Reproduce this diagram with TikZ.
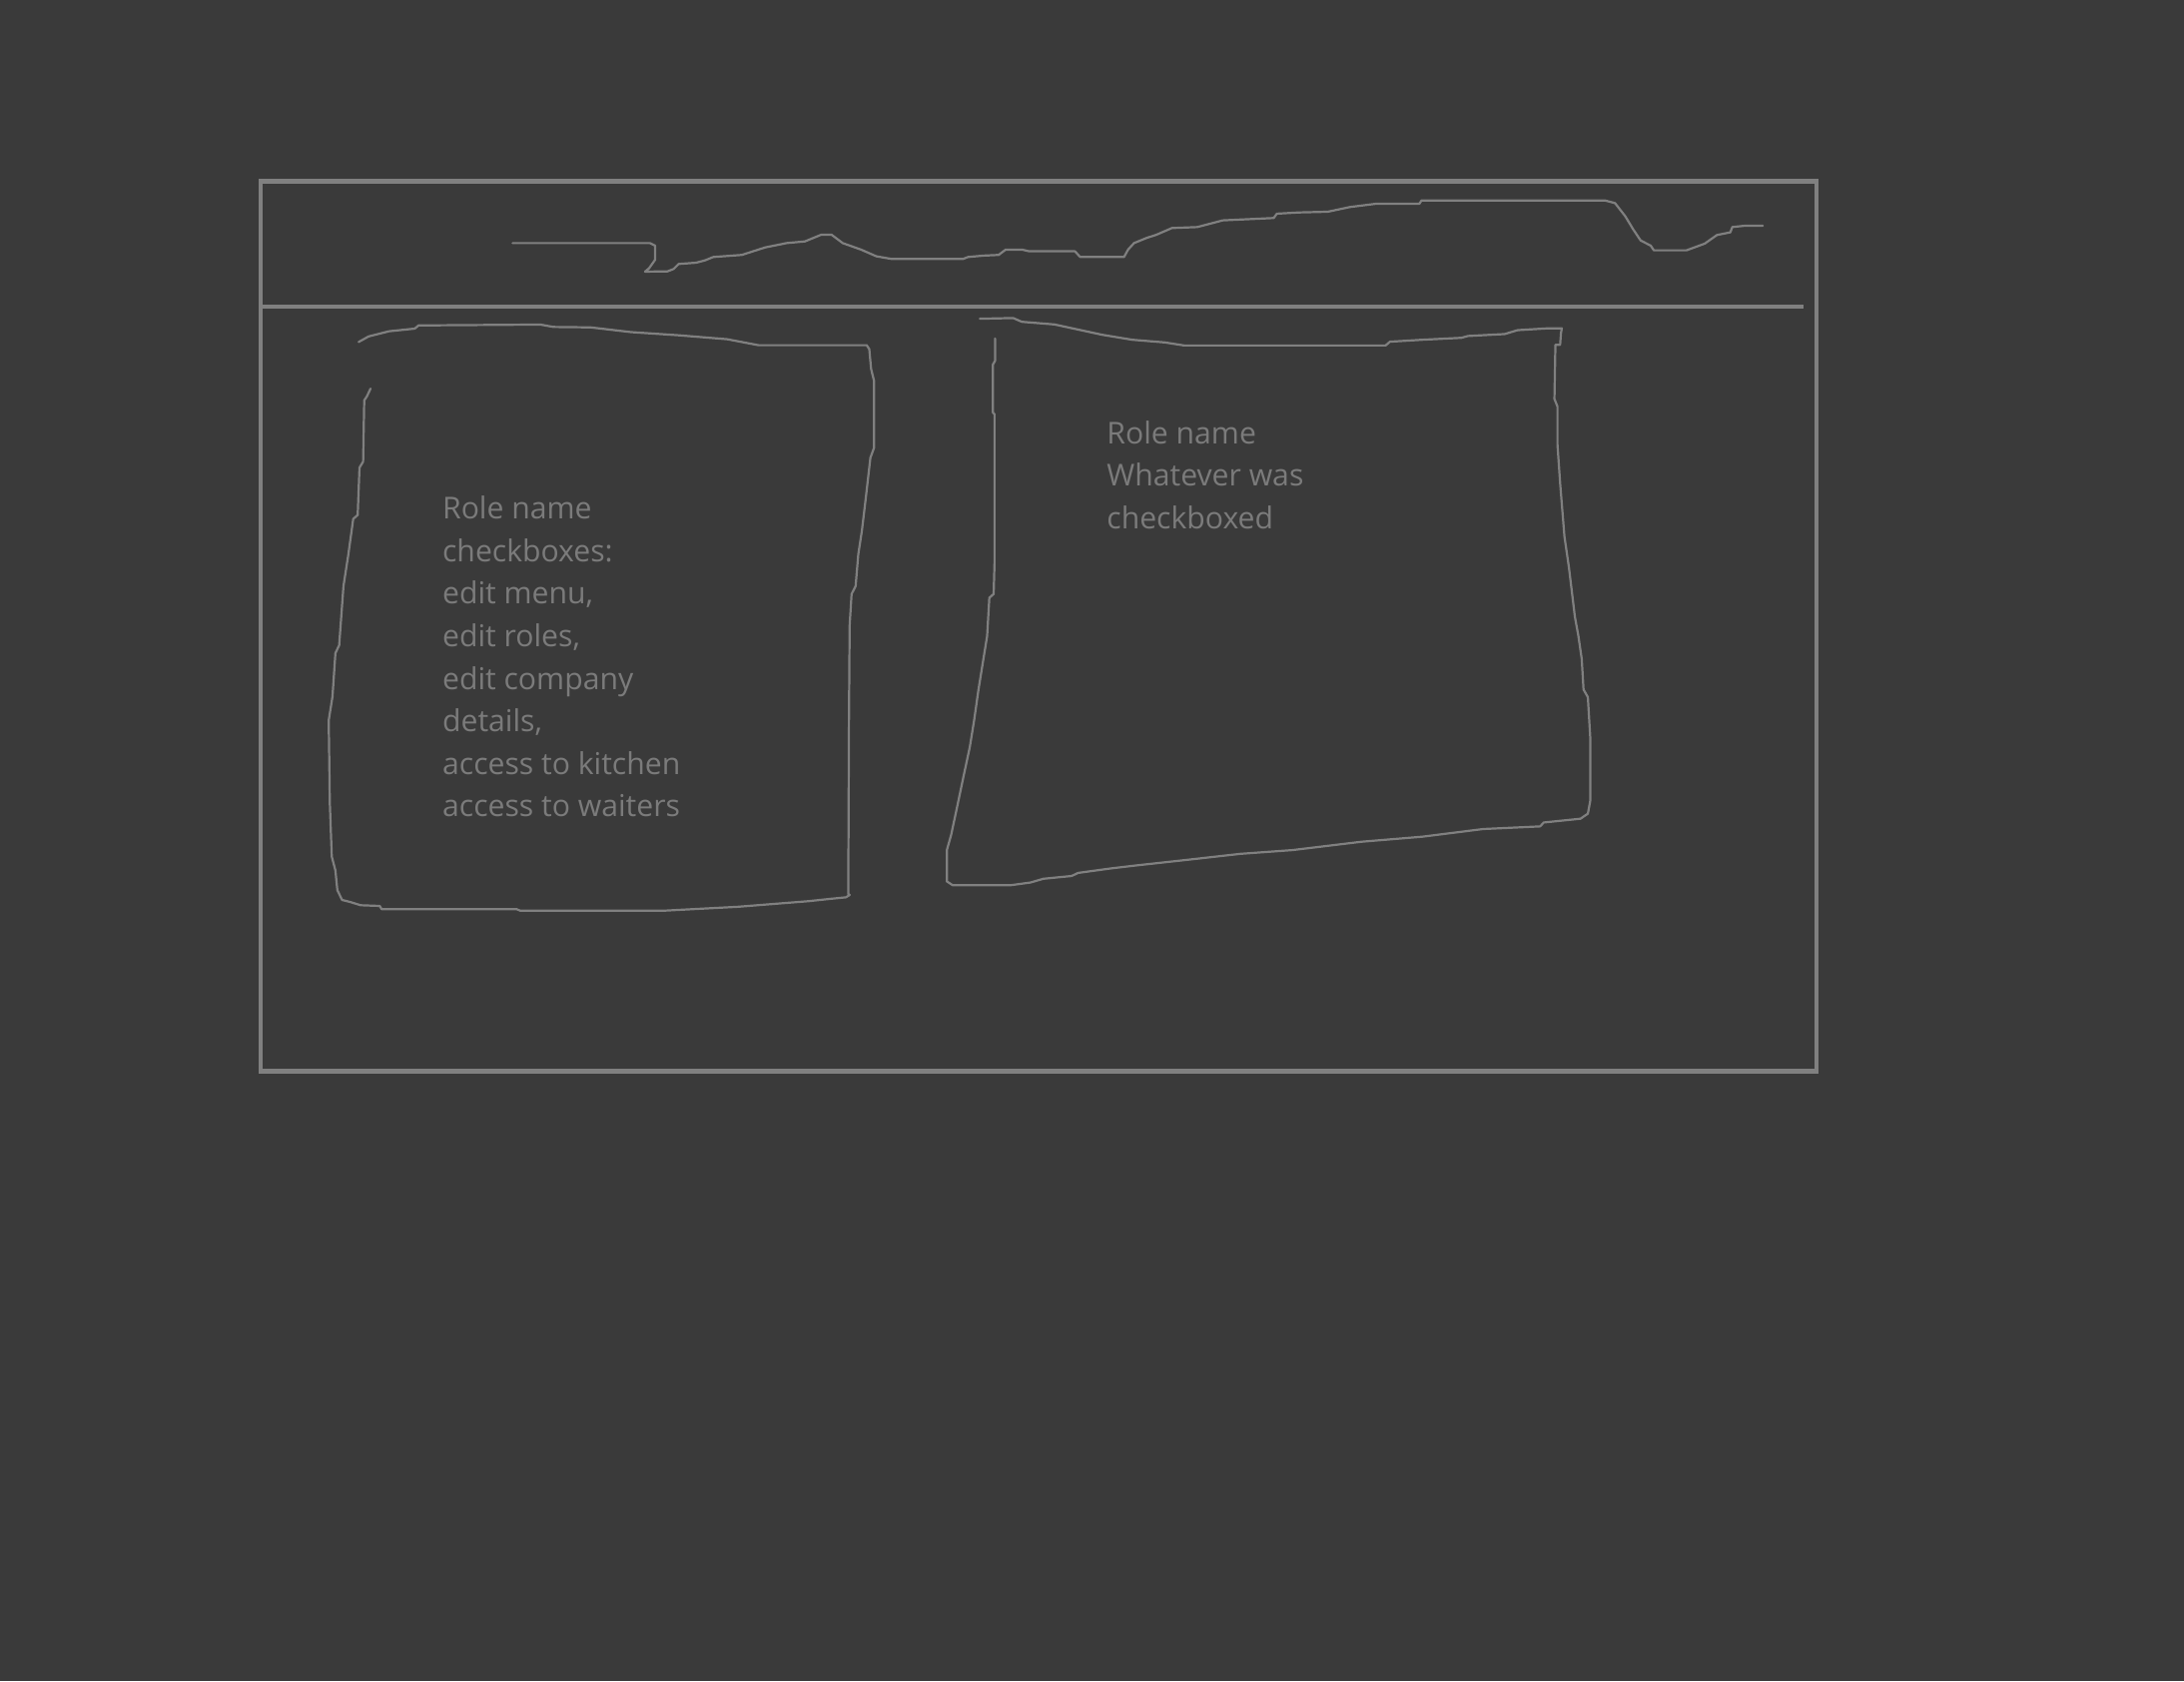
\documentclass[tikz,border=0pt]{standalone}
\usepackage{fontspec}
\setmainfont{Open Sans}
\usepackage{xcolor}

\definecolor{pagebg}{HTML}{3A3A3A}
\definecolor{penline}{HTML}{808080}
\definecolor{pentext}{HTML}{7B7B7B}

\tikzset{
  frame/.style={draw=penline, line width=0.9pt},
  scribble/.style={draw=penline, line width=0.45pt, line join=round, line cap=round},
  note/.style={text=pentext, anchor=north west, inner sep=0pt, align=left,
    font=\fontsize{6.15}{8.68}\selectfont}
}

\begin{document}
\begin{tikzpicture}[x=0.01cm, y=-0.01cm]
  % Background and page size
  \fill[pagebg] (0,0) rectangle (1568,1207);
  \useasboundingbox (0,0) rectangle (1568,1207);

  % Draw the window frame and the header line
  \draw[frame] (187,130) rectangle (1304,769);
  \draw[frame] (187,220) -- (1295,220);

  % Scribble in the header
  \draw[scribble] (368,174.5) -- (466.7,174.5) -- (470.4,176.4) -- (470.4,186.4)
    -- (466,192.6) -- (463.1,195) -- (479.2,194.8) -- (483.6,193.1) -- (487.2,189.5)
    -- (499.7,188.6) -- (506.2,186.9) -- (512.1,184.5) -- (532.6,183) -- (549.4,177.6)
    -- (564.8,174.5) -- (577.9,173.3) -- (589.6,168.5) -- (597,168.5) -- (605,174.5)
    -- (618.2,179.2) -- (629.2,184) -- (640.2,185.9) -- (691.4,185.9) -- (695,184.5)
    -- (706,183.5) -- (717,183) -- (722,179.2) -- (733.8,179.2) -- (738.9,180.4)
    -- (771.8,180.4) -- (775.5,184.5) -- (807,184.5) -- (809.9,179.2) -- (814.2,174.5)
    -- (823,170.9) -- (830.3,168.5) -- (841.4,163.7) -- (859.6,163) -- (877.9,158.2)
    -- (914.5,156.5) -- (916.7,153.4) -- (932.8,152.5) -- (953.3,152) -- (969.3,148.6)
    -- (987.7,146.3) -- (1019,146.3) -- (1020.6,143.9) -- (1152.2,143.9) -- (1159.5,145.8)
    -- (1166.9,155.3) -- (1172.7,164.9) -- (1177.9,172.6) -- (1185.2,176.4) -- (1187.4,179.7)
    -- (1210.8,179.7) -- (1223.9,174.9) -- (1232.7,168.7) -- (1242.3,166.8) -- (1243.7,163)
    -- (1253.2,162) -- (1265.6,162);

  % Left panel outline
  \draw[scribble] (257.5,245.5) -- (264.7,241.5) -- (279.3,237.8) -- (297.8,235.9)
    -- (300.5,233.6) -- (388,233) -- (397.3,234.7) -- (423.9,235) -- (453,238.4)
    -- (487.5,240.7) -- (522,243.5) -- (544.5,247.8) -- (622.2,247.8) -- (624.1,250.6)
    -- (625.4,264.8) -- (627.5,273.3) -- (627.5,321.5) -- (624.9,328.6) -- (621.5,358.3)
    -- (618.8,381) -- (616.2,398) -- (614.3,420.7) -- (611.4,426.4) -- (610,449)
    -- (609.5,520) -- (609,641.8) -- (610,642.4) -- (607.4,644.1) -- (596.3,645.2)
    -- (580.3,646.9) -- (529.9,650.9) -- (476.9,653.7) -- (373.5,653.7) -- (370.8,652.6)
    -- (274,652.6) -- (272.6,650.3) -- (258.9,649.8) -- (251.5,647.5) -- (245.6,646)
    -- (242.2,639) -- (240.8,624.8) -- (238.2,614.9) -- (236.8,576.6) -- (236,517.1)
    -- (238.7,500.1) -- (240.8,468.9) -- (243.5,463.2) -- (246.6,420.7) -- (250.1,398)
    -- (253.6,372.5) -- (256.8,369.7) -- (258.1,335.7) -- (260.7,331.4) -- (261.5,287.4)
    -- (263.4,284.6) -- (266,279);

  % Right panel outline, top stroke
  \draw[scribble] (703.5,228.8) -- (727.4,228.3) -- (733.6,231) -- (757,232.9)
    -- (791.2,240.3) -- (812.9,243.9) -- (836.2,245.8) -- (850.2,248) -- (994.8,248)
    -- (997.9,245.3) -- (1021.2,243.9) -- (1049.2,242.5) -- (1053.9,241.2) -- (1080.3,239.8)
    -- (1089.6,237) -- (1111.3,235.7) -- (1121.3,235.7) -- (1120.7,239.2) -- (1120.1,247.5)
    -- (1116.7,247.5) -- (1116,286.4) -- (1118.2,291.9) -- (1118.2,319.3) -- (1120.1,346.8)
    -- (1123.2,385.2) -- (1126.4,407.2) -- (1130.7,442.8) -- (1133.2,456.5) -- (1135.6,473)
    -- (1136.9,495) -- (1140,500.4) -- (1141.8,530.6) -- (1141.8,574.5) -- (1140,584.1)
    -- (1134.7,587.7) -- (1108.3,590.4) -- (1105.8,593.2) -- (1064.8,595.1) -- (1021.2,600.6)
    -- (977.7,604.2) -- (928,610.2) -- (890.6,612.9) -- (853.3,617.1) -- (816,621.2)
    -- (797.3,623.4) -- (774,626.6) -- (769.4,628.8) -- (749.1,630.8) -- (739.8,633.5)
    -- (725.8,635.4) -- (683.9,635.4) -- (679.8,632.7) -- (679.8,610.2) -- (682.9,599.2)
    -- (687,580) -- (691.6,558.1) -- (696.3,536.1) -- (699.4,516.9) -- (702.5,495)
    -- (705.6,475.8) -- (708.7,456.6) -- (710.3,429.1) -- (713.4,426.4) -- (714,404.4)
    -- (714,297.4) -- (712.8,296) -- (712.8,261.8) -- (714.4,259) -- (714.4,243);

  % Panel texts
  \node[note] (roleform) at (317,355.5) {Role name\\checkboxes:\\edit menu,\\edit roles,\\edit company\\details,\\access to kitchen\\access to waiters};
  \node[note] (roleview) at (794,301.5) {Role name\\Whatever was\\checkboxed};
\end{tikzpicture}
\end{document}
